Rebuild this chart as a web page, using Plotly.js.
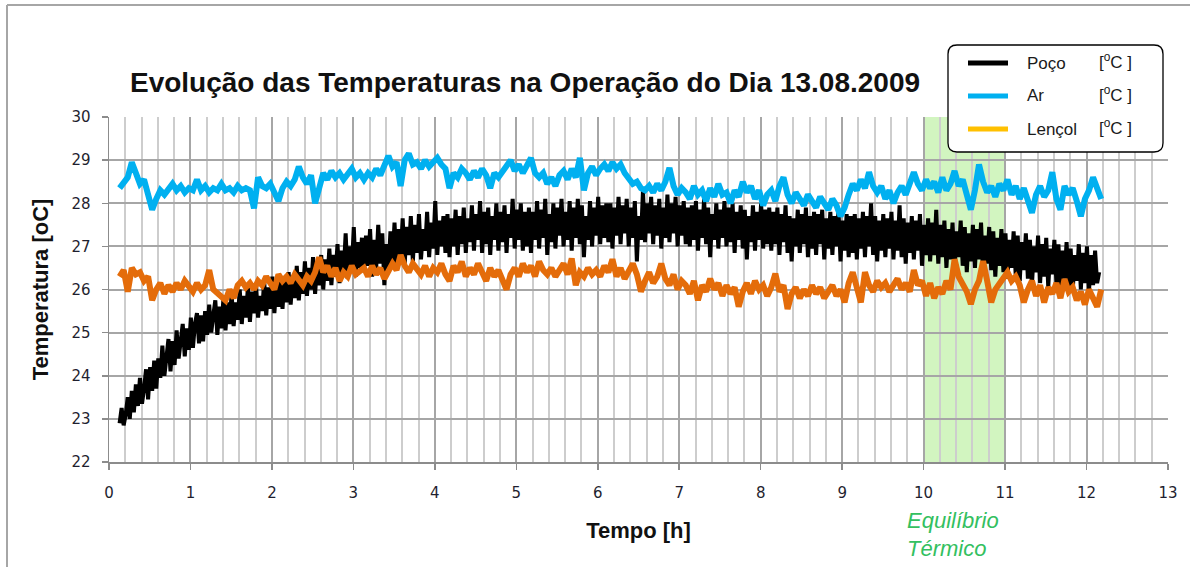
<!DOCTYPE html>
<html>
<head>
<meta charset="utf-8">
<script src="https://cdn.plot.ly/plotly-3.0.1.min.js"></script>
<style>html,body{margin:0;padding:0;background:#fff;}#chart{width:1190px;height:567px;}</style>
</head>
<body>
<div id="chart"></div>
<script>
// ---- data ----
const timeStart = 0.13;        // h, first sample
const pocoStep = 0.025;        // h, sample spacing of Poço
const arStep = 0.05;           // h, sample spacing of Ar and Lençol

const poco = [
22.9,23.25,22.85,23.1,23.5,23.0,23.65,23.15,23.8,23.3,23.95,23.35,23.7,24.15,23.45,24.2,23.65,24.35,23.7,24.4,
23.95,24.7,24.0,24.55,24.85,24.1,24.8,24.25,25.05,24.4,24.9,25.2,24.45,25.1,24.6,25.35,24.65,25.2,25.45,24.75,
25.4,24.8,25.5,24.95,25.65,25.0,25.4,25.75,24.95,25.6,25.1,25.8,25.05,25.7,25.2,25.9,25.15,25.7,25.3,26.0,
25.2,25.85,25.35,26.05,25.25,25.95,25.45,26.1,25.35,25.85,25.5,26.2,25.4,26.05,25.55,26.3,25.45,26.1,25.6,26.25,
25.55,26.3,25.7,26.4,25.65,26.3,25.8,26.55,25.75,26.4,25.9,26.65,25.85,26.5,26.0,26.75,25.9,26.6,26.1,26.8,
26.0,26.7,26.2,26.95,26.1,26.8,26.3,27.05,26.15,26.9,26.35,27.3,26.25,27.0,26.45,27.45,26.3,27.1,26.5,27.2,
26.4,27.25,26.55,27.4,26.3,27.15,26.5,27.5,26.6,27.3,26.1,27.05,26.45,27.35,26.65,27.55,26.5,27.4,26.75,27.65,
26.6,27.45,26.8,27.7,26.65,27.5,26.85,27.75,26.7,27.4,26.9,27.8,26.75,27.55,26.95,28.05,26.8,27.6,27.0,27.7,
26.85,27.75,26.75,27.65,27.0,27.85,26.8,27.7,27.05,27.9,26.85,27.65,27.1,27.95,26.9,27.75,27.15,28.05,26.85,27.8,
27.05,27.9,26.8,27.7,27.15,28.0,26.9,27.8,27.1,27.95,26.85,27.75,27.2,28.1,26.95,27.85,27.15,28.0,26.9,27.8,
27.0,27.9,26.85,27.8,27.15,28.05,26.95,27.85,27.2,28.1,26.8,27.75,27.1,28.0,26.95,27.9,27.25,28.1,27.0,27.8,
27.15,28.05,26.9,27.9,27.2,28.1,27.05,27.95,26.75,27.7,27.15,28.05,27.0,27.9,27.25,28.15,27.05,27.95,27.2,28.0,
27.1,28.0,26.95,27.9,27.25,28.15,27.05,27.95,27.3,28.1,27.0,27.9,27.2,28.05,26.65,27.7,27.15,28.3,27.1,28.0,
27.3,28.15,27.05,27.95,27.25,28.1,26.95,27.9,27.2,28.2,27.1,28.0,27.3,28.15,27.0,27.95,27.25,28.05,27.05,27.9,
27.0,27.95,27.15,28.05,26.9,27.85,27.2,28.1,27.05,27.9,26.75,27.75,27.15,28.0,26.95,27.85,27.2,28.05,27.0,27.9,
27.1,28.0,26.85,27.8,27.15,27.95,26.95,27.85,26.7,27.7,27.1,27.95,26.9,27.8,27.15,28.0,26.95,27.85,27.05,27.9,
26.9,27.8,27.05,27.9,26.8,27.75,27.1,27.95,26.85,27.7,26.65,27.65,27.0,27.85,26.85,27.75,27.05,27.9,26.75,27.7,
26.95,27.8,26.8,27.75,27.05,27.85,26.7,27.65,26.95,27.8,26.8,27.7,27.0,27.85,26.65,27.6,26.9,27.75,26.75,27.7,
26.85,27.75,26.7,27.65,26.95,27.8,26.75,27.7,27.0,28.0,26.8,27.7,26.65,27.6,26.9,27.75,26.75,27.65,26.95,27.8,
26.7,27.6,26.9,27.95,26.75,27.65,26.6,27.55,26.85,27.7,26.7,27.6,26.9,27.75,26.55,27.5,26.8,27.65,26.65,27.55,
26.8,27.85,26.6,27.5,26.75,27.6,26.5,27.4,26.7,27.55,26.45,27.35,26.75,27.6,26.55,27.45,26.4,27.3,26.65,27.5,
26.5,27.4,26.7,27.55,26.35,27.25,26.6,27.45,26.45,27.35,26.3,27.2,26.55,27.4,26.4,27.3,26.25,27.15,26.5,27.35,
26.35,27.25,26.2,27.1,26.45,27.3,26.25,27.15,26.1,27.0,26.4,27.25,26.15,27.05,26.3,27.2,26.05,26.95,26.35,27.15,
26.15,27.05,26.0,26.9,26.25,27.1,26.05,26.95,25.95,26.8,26.2,27.05,26.0,26.85,26.15,27.0,25.95,26.8,26.1,26.9,
26.15,26.4
];

const ar = [
28.35,28.5,28.6,28.95,28.7,28.45,28.55,28.2,27.85,28.1,28.3,28.2,28.35,28.45,28.3,28.4,28.25,28.35,28.3,28.55,
28.3,28.4,28.25,28.35,28.3,28.45,28.3,28.35,28.25,28.4,28.3,28.35,28.3,27.88,28.6,28.4,28.35,28.45,28.25,28.05,
28.35,28.5,28.4,28.55,28.85,28.6,28.45,28.65,28.0,28.3,28.7,28.55,28.75,28.6,28.7,28.55,28.65,28.8,28.6,28.7,
28.55,28.7,28.6,28.8,28.65,28.9,29.1,28.85,28.95,28.4,29.0,29.15,28.9,28.95,28.8,29.0,28.85,28.95,29.05,28.9,
28.8,28.35,28.7,28.6,28.8,28.7,28.55,28.75,28.6,28.8,28.65,28.35,28.7,28.6,28.75,28.9,29.0,28.75,28.9,28.7,
28.85,29.05,28.7,28.6,28.7,28.45,28.6,28.4,28.65,28.75,28.55,28.8,28.6,29.05,28.3,28.7,28.85,28.65,28.8,28.9,
28.75,28.95,28.8,28.9,28.7,28.55,28.45,28.5,28.35,28.3,28.4,28.25,28.45,28.3,28.5,28.82,28.4,28.2,28.35,28.25,
28.1,28.4,28.2,28.3,28.05,28.35,28.15,28.45,28.2,28.25,28.0,28.3,28.15,28.5,28.25,28.4,28.1,28.3,27.95,28.2,
28.3,28.05,28.4,28.6,28.2,28.0,28.25,28.1,27.95,28.2,28.05,27.9,28.15,28.0,27.85,28.1,27.95,27.7,27.9,28.2,
28.45,28.3,28.55,28.35,28.72,28.4,28.25,28.4,28.1,28.3,28.0,28.25,28.4,28.2,28.5,28.72,28.45,28.3,28.55,28.35,
28.5,28.25,28.6,28.3,28.45,28.75,28.4,28.55,28.2,27.85,28.3,28.9,28.5,28.25,28.4,28.15,28.45,28.3,28.55,28.2,
28.4,28.1,28.35,28.0,27.78,28.2,28.4,28.15,28.3,28.72,28.1,27.85,28.4,28.2,28.35,28.05,27.7,28.1,28.3,28.6,
28.3,28.1
];

const lencol = [
26.3,26.45,25.95,26.5,26.35,26.4,26.2,26.3,25.75,26.0,26.15,25.9,26.1,25.95,26.15,26.0,26.2,26.05,25.95,26.15,
26.0,26.1,26.45,26.0,25.9,25.85,25.75,26.0,25.8,26.1,26.2,26.05,26.15,26.0,26.2,26.1,26.3,26.15,26.0,26.35,
26.2,26.3,26.15,26.35,26.25,26.1,26.3,26.2,26.4,26.75,26.4,26.55,26.3,26.5,26.2,26.4,26.3,26.55,26.35,26.45,
26.5,26.3,26.55,26.35,26.5,26.25,26.4,26.6,26.45,26.8,26.55,26.4,26.6,26.45,26.35,26.55,26.3,26.5,26.4,26.6,
26.35,26.2,26.55,26.4,26.65,26.3,26.5,26.35,26.6,26.4,26.2,26.5,26.3,26.45,26.25,26.0,26.35,26.5,26.3,26.6,
26.4,26.55,26.3,26.65,26.45,26.35,26.5,26.3,26.45,26.6,26.35,26.72,26.1,26.4,26.3,26.5,26.35,26.45,26.3,26.55,
26.4,26.7,26.3,26.5,26.25,26.45,26.6,26.35,25.95,26.2,26.4,26.15,26.3,26.6,26.25,26.1,26.35,26.0,26.2,26.1,
25.9,26.2,25.75,26.1,25.95,26.25,26.0,26.15,25.85,26.1,25.9,26.05,25.6,25.95,26.15,25.9,26.2,26.0,26.1,25.85,
26.05,26.37,25.95,26.1,25.55,25.9,26.05,25.8,26.0,25.85,26.1,25.9,26.05,25.8,25.95,26.1,25.85,26.0,25.7,26.15,
26.4,26.0,25.7,26.4,26.1,25.95,26.2,26.05,26.15,25.95,26.1,26.25,26.0,26.15,25.95,26.45,26.1,26.2,25.85,26.15,
25.8,26.05,25.9,26.2,26.0,26.7,26.3,26.1,25.95,25.66,26.0,26.2,26.66,26.2,25.7,26.0,26.15,26.3,26.4,26.2,
26.3,26.1,25.7,26.0,26.2,25.85,26.1,25.7,26.05,25.9,26.15,25.8,26.24,25.95,26.05,25.75,25.95,25.65,26.0,25.8,
25.6,26.0
];

const seriesNames = ["Poço", "Ar", "Lençol"];
const unitLabel = "[<sup>o</sup>C ]";
const equilibrioRange = [10, 11];
const equilibrioLabel = ["Equilíbrio", "Térmico"];
const xRange = [0, 13];
const yRange = [22, 30];

// ---- layout geometry ----
const W = 1190, H = 567;
const M = {l: 109, r: 22, t: 117, b: 105};
const PW = W - M.l - M.r, PH = H - M.t - M.b;
const px = x => (x - M.l) / PW;          // pixel -> paper x
const py = y => (H - M.b - y) / PH;      // pixel -> paper y

const lineColors = ["#000000", "#00b0f0", "#e46c0a"];
const legendColors = ["#000000", "#00b0f0", "#ffc000"];
const steps = [pocoStep, arStep, arStep];
const widths = [4, 6, 6];

const traces = [poco, ar, lencol].map((vals, i) => ({
  type: "scatter", mode: "lines",
  x0: timeStart, dx: steps[i], y: vals,
  name: seriesNames[i],
  line: {color: lineColors[i], width: widths[i]},
  showlegend: false, hoverinfo: "skip"
}));

// legend box (rounded rectangle)
const bx0 = px(948), bx1 = px(1163), byT = py(45), byB = py(152);
const rx = 9 / PW, ry = 9 / PH;
const boxPath = `M ${bx0+rx},${byT} L ${bx1-rx},${byT} Q ${bx1},${byT} ${bx1},${byT-ry} ` +
  `L ${bx1},${byB+ry} Q ${bx1},${byB} ${bx1-rx},${byB} L ${bx0+rx},${byB} ` +
  `Q ${bx0},${byB} ${bx0},${byB+ry} L ${bx0},${byT-ry} Q ${bx0},${byT} ${bx0+rx},${byT} Z`;

const rowsY = [63, 96, 129];
const shapes = [
  {type: "rect", xref: "x", yref: "y", x0: equilibrioRange[0], x1: equilibrioRange[1],
   y0: yRange[0], y1: yRange[1], fillcolor: "#d2f5c0", line: {width: 0}, layer: "below"},
  {type: "line", xref: "paper", yref: "paper", x0: px(7), x1: px(7), y0: py(5), y1: py(567),
   line: {color: "#a6a6a6", width: 2}},
  {type: "line", xref: "paper", yref: "paper", x0: px(7), x1: px(1190), y0: py(5), y1: py(5),
   line: {color: "#a6a6a6", width: 2}},
  {type: "path", xref: "paper", yref: "paper", path: boxPath, fillcolor: "#ffffff",
   line: {color: "#000000", width: 1.3}}
];
rowsY.forEach((yy, i) => {
  shapes.push({type: "line", xref: "paper", yref: "paper", x0: px(968), x1: px(1008),
    y0: py(yy), y1: py(yy), line: {color: legendColors[i], width: 5}});
});

const annotations = [];
rowsY.forEach((yy, i) => {
  annotations.push({xref: "paper", yref: "paper", x: px(1025), y: py(yy), xanchor: "left", yanchor: "middle",
    text: seriesNames[i], showarrow: false, font: {family: "Liberation Sans, Arial", size: 17, color: "#1a1a1a"}});
  annotations.push({xref: "paper", yref: "paper", x: px(1097), y: py(yy - 2), xanchor: "left", yanchor: "middle",
    text: unitLabel, showarrow: false, font: {family: "Liberation Sans, Arial", size: 17, color: "#1a1a1a"}});
});
equilibrioLabel.forEach((t, i) => {
  annotations.push({xref: "paper", yref: "paper", x: px(905), y: py(520 + 28 * i), xanchor: "left", yanchor: "middle",
    text: "<i>" + t + "</i>", showarrow: false, font: {family: "Liberation Sans, Arial", size: 22, color: "#33c060"}});
});

const layout = {
  width: W, height: H,
  margin: M,
  paper_bgcolor: "#ffffff", plot_bgcolor: "#ffffff",
  font: {family: "Liberation Sans, Arial", color: "#1a1a1a"},
  title: {text: "<b>Evolução das Temperaturas na Operação do Dia 13.08.2009</b>",
    xref: "container", yref: "container", x: 525 / W, y: 1 - 82 / H, xanchor: "center", yanchor: "middle",
    font: {family: "Liberation Sans, Arial", size: 28, color: "#111"}},
  xaxis: {
    range: xRange, dtick: 1, tick0: 0,
    showgrid: true, gridcolor: "#a6a6a6", gridwidth: 2,
    minor: {dtick: 0.2, showgrid: true, gridcolor: "#cdcdcd", gridwidth: 2, ticklen: 0},
    showline: true, linecolor: "#8c8c8c", linewidth: 1.5,
    ticks: "outside", ticklen: 6, tickcolor: "#8c8c8c", tickwidth: 1.5,
    tickfont: {family: "DejaVu Sans", size: 15, color: "#1f1f2f"},
    ticklabelstandoff: 10,
    zeroline: false,
    title: {text: "<b>Tempo [h]</b>", font: {family: "Liberation Sans, Arial", size: 22, color: "#111"}, standoff: 22}
  },
  yaxis: {
    range: yRange, dtick: 1, tick0: 22,
    showgrid: true, gridcolor: "#a6a6a6", gridwidth: 2,
    showline: true, linecolor: "#8c8c8c", linewidth: 1.5,
    ticks: "outside", ticklen: 6, tickcolor: "#8c8c8c", tickwidth: 1.5,
    tickfont: {family: "DejaVu Sans", size: 15, color: "#1f1f2f"},
    ticklabelstandoff: 8,
    zeroline: false,
    title: {text: "<b>Temperatura [oC]</b>", font: {family: "Liberation Sans, Arial", size: 22, color: "#111"}, standoff: 16}
  },
  shapes: shapes,
  annotations: annotations,
  showlegend: false
};

Plotly.newPlot("chart", traces, layout, {displayModeBar: false, staticPlot: true});
</script>
</body>
</html>
